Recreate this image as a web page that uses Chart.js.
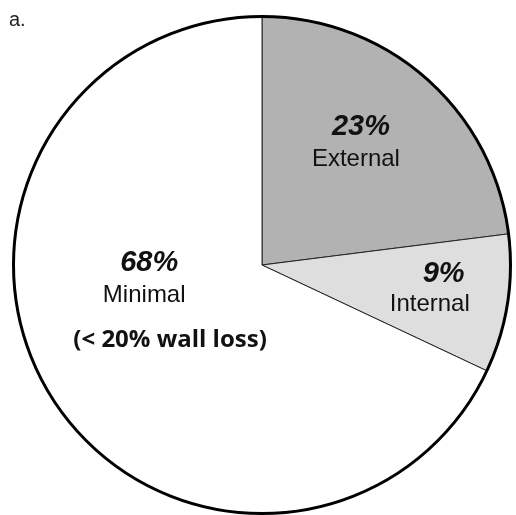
<!DOCTYPE html>
<html>
<head>
<meta charset="utf-8">
<script src="https://cdn.jsdelivr.net/npm/chart.js@4/dist/chart.umd.min.js"></script>
<style>
  body { margin: 0; background: #fff; }
  canvas { display: block; }
</style>
</head>
<body>
<canvas id="myChart" width="516" height="515"></canvas>
<script>
"use strict";

const categories = ["External", "Internal", "Minimal"];
const shares = [23, 9, 68];
const extraNotes = ["", "", "(< 20% wall loss)"];

const darkGray = "#b2b2b2";
const lightGray = "#dedede";
const white = "#ffffff";

// label anchors relative to the pie centre, in units of the radius
const labelSpots = [
  { pct: [0.398, -0.522], name: [0.378, -0.398], note: null },
  { pct: [0.731, 0.068], name: [0.675, 0.185], note: null },
  { pct: [-0.454, 0.024], name: [-0.474, 0.149], note: [-0.37, 0.33] },
];

const sansFont = "'Liberation Sans', Arial, sans-serif";

const pieDecor = {
  id: "pieDecor",
  afterDatasetsDraw(chart) {
    const c = chart.ctx;
    const arc = chart.getDatasetMeta(0).data[0];
    const cx = arc.x;
    const cy = arc.y;
    const r = arc.outerRadius;

    // heavy outline round the whole pie
    c.save();
    c.beginPath();
    c.arc(cx, cy, r, 0, Math.PI * 2);
    c.lineWidth = 3;
    c.strokeStyle = "#000";
    c.stroke();

    c.fillStyle = "#111";
    c.textAlign = "center";
    c.textBaseline = "alphabetic";
    shares.forEach((v, i) => {
      const s = labelSpots[i];
      c.font = "italic bold 29px " + sansFont;
      c.fillText(v + "%", cx + s.pct[0] * r, cy + s.pct[1] * r);
      c.font = "24px " + sansFont;
      c.fillText(categories[i], cx + s.name[0] * r, cy + s.name[1] * r);
      if (s.note && extraNotes[i]) {
        c.font = "bold 24px 'Open Sans', sans-serif";
        c.fillText(extraNotes[i], cx + s.note[0] * r, cy + s.note[1] * r);
      }
    });

    // panel letter
    c.textAlign = "left";
    c.font = "20px " + sansFont;
    c.fillStyle = "#222";
    c.fillText("a.", 9, 26);
    c.restore();
  },
};

const config = {
  type: "pie",
  data: {
    labels: categories,
    datasets: [
      {
        data: shares,
        backgroundColor: [darkGray, lightGray, white],
        borderColor: "#222",
        borderWidth: 1,
      },
    ],
  },
  options: {
    responsive: false,
    animation: false,
    layout: {
      padding: { left: 13, right: 5, top: 16, bottom: 1 },
    },
    plugins: {
      legend: { display: false },
      tooltip: { enabled: false },
    },
  },
  plugins: [pieDecor],
};

new Chart(document.getElementById("myChart"), config);
</script>
</body>
</html>
